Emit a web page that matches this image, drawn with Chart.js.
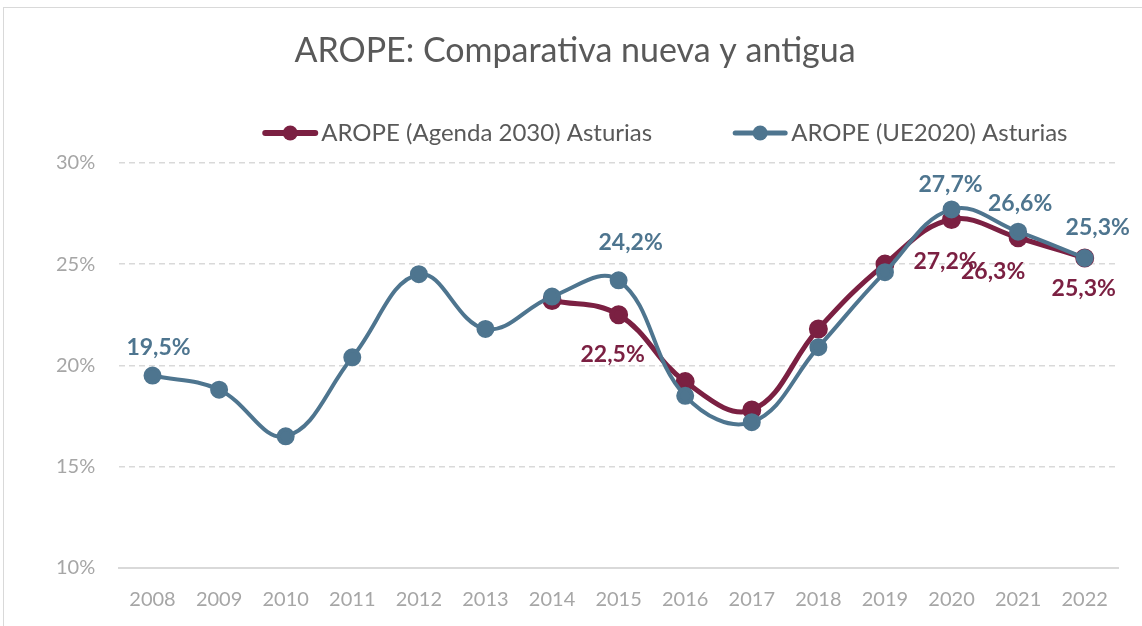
<!DOCTYPE html>
<html>
<head>
<meta charset="utf-8">
<script src="https://cdn.jsdelivr.net/npm/chart.js@4/dist/chart.umd.min.js"></script>
<style>
  html, body { margin: 0; padding: 0; background: #fff; overflow: hidden; }
  #frame { position: absolute; left: 3px; top: 7px; width: 1160px; height: 640px; border: 1px solid #D9D9D9; }
  #wrap { position: absolute; left: 0; top: 0; width: 1142px; height: 626px; }
</style>
</head>
<body>
<div id="frame"></div>
<div id="wrap"><canvas id="chart"></canvas></div>
<script>
const years = ["2008", "2009", "2010", "2011", "2012", "2013", "2014", "2015", "2016", "2017", "2018", "2019", "2020", "2021", "2022"];
const agenda2030 = [null, null, null, null, null, null, 23.2, 22.5, 19.2, 17.8, 21.8, 25.0, 27.2, 26.3, 25.3];
const ue2020 = [19.5, 18.8, 16.5, 20.4, 24.5, 21.8, 23.4, 24.2, 18.5, 17.2, 20.9, 24.6, 27.7, 26.6, 25.3];
const yTicks = [10, 15, 20, 25, 30];

const maroon = '#7B2042';
const steel = '#4E758F';

// which points get a value label, and where it sits relative to the point
const agendaLabels = { 7: [-6, 40], 12: [-6, 42], 13: [-25, 34], 14: [-1, 31] };
const ueLabels = { 0: [6, -28], 7: [12, -38], 12: [-1, -25], 13: [2, -28], 14: [13, -30] };

const valueLabels = {
    id: 'valueLabels',
    afterDatasetsDraw(chart) {
        const ctx = chart.ctx;
        const sets = [[0, agendaLabels, maroon], [1, ueLabels, steel]];
        ctx.save();
        ctx.font = 'bold 23px Lato';
        ctx.textAlign = 'center';
        ctx.textBaseline = 'middle';
        sets.forEach(([di, pos, color]) => {
            const meta = chart.getDatasetMeta(di);
            const data = chart.data.datasets[di].data;
            Object.keys(pos).forEach(k => {
                const pt = meta.data[k];
                if (!pt || data[k] == null) return;
                ctx.fillStyle = color;
                ctx.fillText(data[k].toFixed(1).replace('.', ',') + '%', pt.x + pos[k][0], pt.y + pos[k][1]);
            });
        });
        ctx.restore();
    }
};

// Excel-like legend: short line with a dot, text close to it, wide gap between items
const lineLegend = {
    id: 'lineLegend',
    afterDraw(chart) {
        const ctx = chart.ctx;
        let x = chart.chartArea.left + 143;
        const y = 133;
        ctx.save();
        ctx.font = '24px Lato';
        ctx.textBaseline = 'middle';
        ctx.textAlign = 'left';
        chart.data.datasets.forEach(ds => {
            ctx.strokeStyle = ds.borderColor;
            ctx.lineWidth = ds.borderWidth + 1;
            ctx.lineCap = 'round';
            ctx.beginPath(); ctx.moveTo(x + 3, y); ctx.lineTo(x + 53, y); ctx.stroke();
            ctx.fillStyle = ds.borderColor;
            ctx.beginPath(); ctx.arc(x + 28, y, 7.5, 0, Math.PI * 2); ctx.fill();
            ctx.fillStyle = '#595959';
            ctx.fillText(ds.label, x + 59, y);
            x += 59 + ctx.measureText(ds.label).width + 80;
        });
        ctx.restore();
    }
};

const ctx = document.getElementById('chart').getContext('2d');
const chart = new Chart(ctx, {
    type: 'line',
    data: {
        labels: years,
        datasets: [{
            label: 'AROPE (Agenda 2030) Asturias',
            data: agenda2030,
            borderColor: maroon,
            backgroundColor: maroon,
            borderWidth: 5,
            pointRadius: 7,
            pointHoverRadius: 7,
            tension: 0.4,
            order: 1
        }, {
            label: 'AROPE (UE2020) Asturias',
            data: ue2020,
            borderColor: steel,
            backgroundColor: steel,
            borderWidth: 4,
            pointRadius: 7,
            pointHoverRadius: 7,
            tension: 0.4,
            order: 0
        }]
    },
    options: {
        responsive: true,
        maintainAspectRatio: false,
        animation: false,
        layout: { padding: { left: 32, right: 24, top: 10, bottom: 2 } },
        plugins: {
            title: {
                display: true,
                text: 'AROPE: Comparativa nueva y antigua',
                color: '#595959',
                font: { family: 'Lato', size: 34, weight: 'normal' },
                padding: { top: 21, bottom: 91 }
            },
            legend: { display: false },
            tooltip: { enabled: false }
        },
        scales: {
            x: {
                offset: true,
                grid: { display: false },
                border: { display: true, color: '#D9D9D9', width: 2 },
                ticks: { color: '#A6A6A6', font: { family: 'Lato', size: 20 }, padding: 12 }
            },
            y: {
                min: 10,
                max: 30,
                afterBuildTicks(axis) { axis.ticks = yTicks.map(v => ({ value: v })); },
                grid: { color: '#D9D9D9', lineWidth: 1.5, drawTicks: false },
                border: { display: false, dash: [6, 4] },
                ticks: {
                    color: '#A6A6A6',
                    font: { family: 'Lato', size: 20 },
                    padding: 24,
                    callback: v => v + '%'
                }
            }
        }
    },
    plugins: [valueLabels, lineLegend]
});
</script>
</body>
</html>
